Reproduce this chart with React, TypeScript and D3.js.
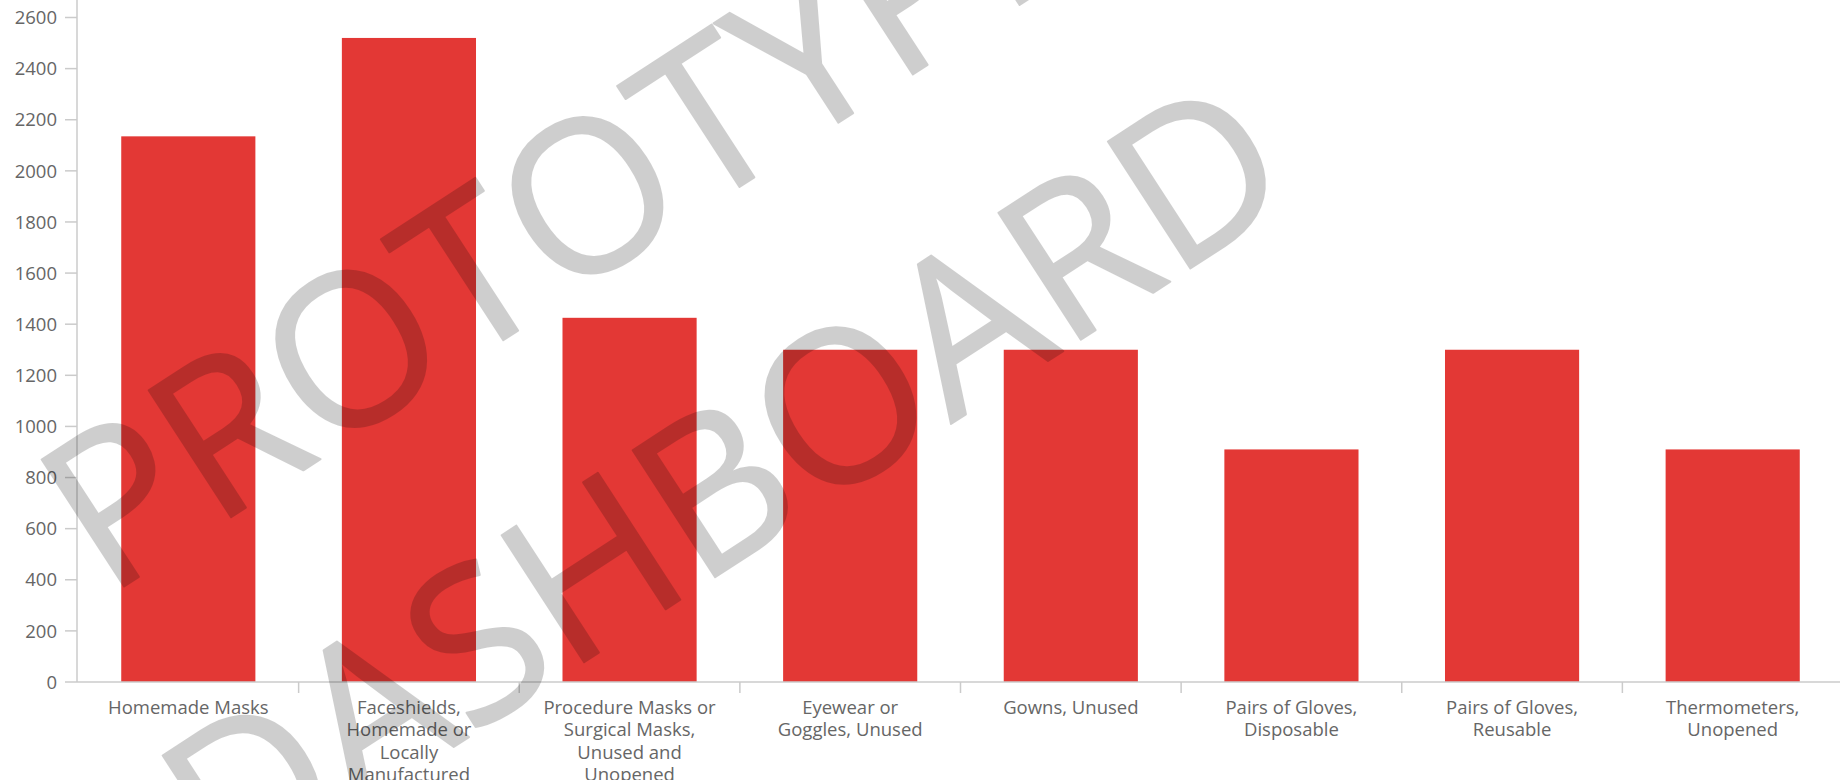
import React from 'react';
import * as d3 from 'd3';

const categories: string[] = [
  'Homemade Masks',
  'Faceshields,\nHomemade or\nLocally\nManufactured',
  'Procedure Masks or\nSurgical Masks,\nUnused and\nUnopened',
  'Eyewear or\nGoggles, Unused',
  'Gowns, Unused',
  'Pairs of Gloves,\nDisposable',
  'Pairs of Gloves,\nReusable',
  'Thermometers,\nUnopened',
];
const values: number[] = [2135, 2520, 1425, 1300, 1300, 910, 1300, 910];
const yTicks: number[] = [0, 200, 400, 600, 800, 1000, 1200, 1400, 1600, 1800, 2000, 2200, 2400, 2600];
const watermarkLines: string[] = ['PROTOTYPE', 'DASHBOARD'];

const W = 1846;
const H = 780;
const FONT = "'Open Sans', 'Noto Sans', sans-serif";
const AXIS = '#cbcbcb';
const TEXT = '#666666';
const BAR = '#e33835';

export default function App() {
  const x = d3
    .scaleBand<string>()
    .domain(categories)
    .range([78, 1843])
    .paddingInner(0.392)
    .paddingOuter(0.196);
  const y = d3.scaleLinear().domain([0, 2600]).range([682, 17.5]);
  const step = x.step();
  const x0 = 78;
  const baseY = y(0);

  return (
    <svg
      width={W}
      height={H}
      viewBox={`0 0 ${W} ${H}`}
      style={{ position: 'absolute', left: 0, top: 0, display: 'block', background: '#fff' }}
      fontFamily={FONT}
    >
      <rect x={0} y={0} width={W} height={H} fill="#ffffff" />
      {/* bars */}
      {categories.map((c, i) => (
        <rect
          key={c}
          x={x(c)}
          y={y(values[i])}
          width={x.bandwidth()}
          height={baseY - y(values[i])}
          fill={BAR}
        />
      ))}
      {/* y axis */}
      <line x1={77} x2={77} y1={0} y2={baseY} stroke={AXIS} strokeWidth={1.5} />
      {yTicks.map((t) => (
        <g key={t}>
          <line x1={65} x2={77} y1={y(t)} y2={y(t)} stroke={AXIS} strokeWidth={1.5} />
          <text x={57} y={y(t)} dy="0.36em" textAnchor="end" fontSize={18.5} fill={TEXT}>
            {t}
          </text>
        </g>
      ))}
      {/* x axis */}
      <line x1={77} x2={1840} y1={baseY} y2={baseY} stroke={AXIS} strokeWidth={1.5} />
      {categories.slice(1).map((c, i) => {
        const bx = x0 + (i + 1) * step;
        return <line key={c} x1={bx} x2={bx} y1={baseY} y2={baseY + 11} stroke={AXIS} strokeWidth={1.5} />;
      })}
      {categories.map((c) => {
        const cx = (x(c) as number) + x.bandwidth() / 2;
        return (
          <text key={c} textAnchor="middle" fontSize={18.5} fill={TEXT}>
            {c.split('\n').map((ln, j) => (
              <tspan key={j} x={cx} y={baseY + 32 + j * 22.4}>
                {ln}
              </tspan>
            ))}
          </text>
        );
      })}
      {/* watermark */}
      <g opacity={0.19} transform="translate(604,275) rotate(-33)">
        {watermarkLines.map((w, i) => (
          <text
            key={w}
            x={i === 0 ? 0 : -12}
            y={i * 314}
            textAnchor="middle"
            fontSize={212}
            fill="#000"
            stroke="#000"
            strokeWidth={2}
            strokeLinejoin="round"
          >
            {w}
          </text>
        ))}
      </g>
    </svg>
  );
}
